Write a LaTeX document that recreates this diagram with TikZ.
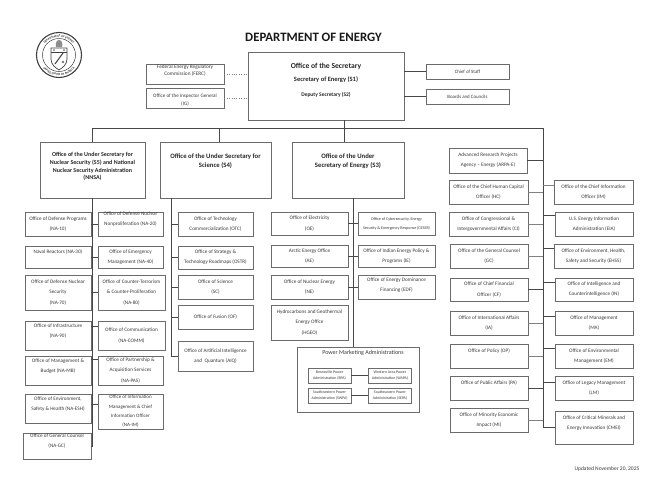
\documentclass[tikz,border=0pt]{standalone}
\usepackage{fontspec}
\setmainfont{Carlito}
\usetikzlibrary{decorations.text}
\definecolor{boxgrey}{gray}{0.42}
\definecolor{inkgrey}{gray}{0.22}
\tikzset{
  office/.style 2 args={draw=boxgrey, line width=0.7pt, text=inkgrey, align=center, inner sep=0pt,
    minimum width=#1, minimum height=#2, font=\fontsize{5.2}{10.2}\selectfont},
  headbox/.style 2 args={office={#1}{#2}, font=\fontsize{6.7}{9}\bfseries\selectfont, text=black!85},
  topbox/.style 2 args={office={#1}{#2}, font=\fontsize{5.3}{7.5}\selectfont},
  pmabox/.style={office={43}{15}, line width=0.5pt, font=\fontsize{3.9}{6.4}\selectfont},
  spine/.style={draw=black!72, line width=0.75pt},
  tick/.style={draw=black!72, line width=0.6pt},
  greytick/.style={draw=black!50, line width=1pt},
  dotlink/.style={draw=black!50, line width=0.4pt, dotted},
  seal/.style={draw=black!75, line width=0.5pt}
}
\begin{document}
\begin{tikzpicture}[x=1pt,y=-1pt]
\useasboundingbox (0,0) rectangle (661,490);

\node[font=\fontsize{12.8}{15}\bfseries\selectfont, text=black!90, inner sep=0pt] (title) at (313.5,37) {DEPARTMENT OF ENERGY};

\draw[seal, line width=1.1pt] (59,55) circle (22.5pt);
\draw[seal] (59,55) circle (16.5pt);
\path[decorate, decoration={text along path, text align=center, text={|\fontsize{3}{3}\bfseries\selectfont\color{black!80}|DEPARTMENT OF ENERGY}}]
  (59,55) ++(165:18pt) arc[start angle=165, end angle=15, radius=18pt];
\path[decorate, decoration={text along path, text align=center, text={|\fontsize{3}{3}\bfseries\selectfont\color{black!80}|UNITED STATES OF AMERICA}}]
  (59,55) ++(200:20.5pt) arc[start angle=200, end angle=340, radius=20.5pt];
\draw[seal, fill=white, line width=0.7pt] (51,48) -- (67,48) -- (67,59) .. controls (67,65) and (62,68) .. (59,70) .. controls (56,68) and (51,65) .. (51,59) -- cycle;
\draw[seal] (51,52) -- (67,52);
\draw[seal, line width=1pt] (55,64) -- (63,53);
\fill[black!55] (54,50) circle (1pt) (64,50) circle (1pt) (63,62) circle (1.3pt);
\fill[black!45] (56,47) .. controls (55,43) and (57,40) .. (59,40) .. controls (62,40) and (63,44) .. (62,47) -- cycle;

\node[office={156}{68}, text=black!85, font=\fontsize{5.5}{7}\selectfont] (S1) at (326,86) {%
  {\fontsize{7.6}{9}\bfseries\selectfont Office of the Secretary}\\[6pt]
  {\fontsize{6.5}{8}\bfseries\selectfont Secretary of Energy (S1)}\\[8pt]
  {\bfseries Deputy Secretary (S2)}\\[6pt]~};
\node[topbox={78}{20}] (FERC) at (185,74) {Federal Energy Regulatory\\Commission (FERC)\\~};
\node[topbox={78}{20}, font=\fontsize{5.1}{7.5}\selectfont] (IG) at (185,98) {~\\Office of the Inspector General\\(IG)};
\node[office={83}{15}, font=\fontsize{4.9}{6}\selectfont] (CoS) at (467.5,71.5) {Chief of Staff};
\node[office={83}{15}, font=\fontsize{4.9}{6}\selectfont] (BC) at (467.5,96.5) {Boards and Councils};

\node[headbox={105}{56}, font=\fontsize{6}{7.7}\bfseries\selectfont] (NNSA) at (92.5,170) {Office of the Under Secretary for\\Nuclear Security (S5) and National\\Nuclear Security Administration\\(NNSA)\\~};
\node[headbox={111}{56}] (S4) at (215.5,170) {Office of the Under Secretary for\\Science (S4)\\~\\~};
\node[headbox={112}{56}] (S3) at (348,170) {Office of the Under\\Secretary of Energy (S3)\\~\\~};

\node[office={66}{24}] (NA10) at (58,224) {Office of Defense Programs\\(NA-10)};
\node[office={65}{24}] (NA20) at (130.5,224) {Office of Defense Nuclear\\Nonproliferation (NA-20)\\~};
\node[office={66}{22}] (NA30) at (58,257) {Naval Reactors (NA-30)\\~};
\node[office={65}{22}] (NA40) at (130.5,257) {Office of Emergency\\Management (NA-40)};
\node[office={66}{35}] (NA70) at (58,292.5) {Office of Defense Nuclear\\Security\\(NA-70)};
\node[office={67}{35}] (NA80) at (131.5,292.5) {Office of Counter-Terrorism\\\& Counter-Proliferation\\(NA-80)};
\node[office={66}{29}] (NA90) at (58,335.5) {Office of Infrastructure\\(NA-90)\\~};
\node[office={67}{29}] (NACOMM) at (131.5,335.5) {Office of Communication\\(NA-COMM)};
\node[office={66}{29}] (NAMB) at (58,370.5) {Office of Management \&\\Budget (NA-MB)\\~};
\node[office={65}{29}] (NAPAS) at (130.5,370.5) {Office of Partnership \&\\Acquisition Services\\(NA-PAS)};
\node[office={66}{29}] (NAESH) at (58,408.5) {Office of Environment,\\Safety \& Health (NA-ESH)\\~};
\node[office={65}{35}, font=\fontsize{5}{9.3}\selectfont] (NAIM) at (130.5,411.5) {Office of Information\\Management \& Chief\\Information Officer\\(NA-IM)};
\node[office={68}{26}] (NAGC) at (57,446) {Office of General Counsel\\(NA-GC)\\~};

\node[office={75}{24}] (OTC) at (215.5,224) {Office of Technology\\Commercialization (OTC)};
\node[office={75}{23}] (OSTR) at (215.5,257.5) {Office of Strategy \&\\Technology Roadmaps (OSTR)};
\node[office={75}{24}] (SC) at (215.5,287) {Office of Science\\(SC)};
\node[office={75}{24}] (OF) at (215.5,317) {Office of Fusion (OF)};
\node[office={75}{30}] (AIQ) at (215.5,356) {Office of Artificial Intelligence\\and~ Quantum (AIQ)};

\node[office={77}{23}] (OE) at (309.5,223.5) {Office of Electricity\\(OE)};
\node[office={77}{22}] (AE) at (309.5,256) {Arctic Energy Office\\(AE)};
\node[office={77}{24}] (NE) at (309.5,287) {Office of Nuclear Energy\\(NE)};
\node[office={77}{35}] (HGEO) at (309.5,322.5) {Hydrocarbons and Geothermal\\Energy Office\\(HGEO)};
\node[office={77}{23}, font=\fontsize{4.1}{9}\selectfont] (CESER) at (396.5,223.5) {Office of Cybersecurity, Energy\\Security \& Emergency Response (CESER)};
\node[office={77}{22}] (IE) at (396.5,256) {Office of Indian Energy Policy \&\\Programs (IE)};
\node[office={77}{24}] (EDF) at (396.5,287) {Office of Energy Dominance\\Financing (EDF)\\[-6pt]~};

\node[office={122}{65}] (PMA) at (358,379.5) {};
\node[inner sep=0pt, text=inkgrey, font=\fontsize{6}{7}\selectfont] (PMAname) at (363,353) {Power Marketing Administrations};
\node[pmabox] (BPA) at (329.5,375.5) {Bonneville Power\\Administration (BPA)};
\node[pmabox] (WAPA) at (390,375.5) {Western Area Power\\Administration (WAPA)};
\node[pmabox] (SWPA) at (329.5,395.5) {Southwestern Power\\Administration (SWPA)};
\node[pmabox] (SEPA) at (390,395.5) {Southeastern Power\\Administration (SEPA)};

\node[office={78}{25}] (ARPA) at (488,160.5) {Advanced Research Projects\\Agency -- Energy (ARPA-E)};
\node[office={79}{24}] (HC) at (488.5,192) {Office of the Chief Human Capital\\Officer (HC)};
\node[office={79}{24}] (CI) at (488.5,224) {Office of Congressional \&\\Intergovernmental Affairs (CI)};
\node[office={78}{24}] (GC) at (489,256) {Office of the General Counsel\\(GC)};
\node[office={78}{23}] (CF) at (489,289.5) {Office of Chief Financial\\Officer (CF)};
\node[office={78}{24}] (IA) at (489,323) {Office of International Affairs\\(IA)};
\node[office={78}{24}] (OP) at (489,356) {Office of Policy (OP)\\~};
\node[office={78}{24}] (PA) at (489,388) {Office of Public Affairs (PA)\\~};
\node[office={78}{24}] (MI) at (489,420) {Office of Minority Economic\\Impact (MI)};

\node[office={79}{24}] (IM) at (593.5,192) {Office of the Chief Information\\Officer (IM)};
\node[office={78}{24}] (EIA) at (594,224) {U.S. Energy Information\\Administration (EIA)};
\node[office={79}{24}] (EHSS) at (593.5,256) {Office of Environment, Health,\\Safety and Security (EHSS)};
\node[office={78}{23}] (IN) at (594,289.5) {Office of Intelligence and\\Counterintelligence (IN)};
\node[office={78}{24}] (MA) at (594,323) {Office of Management\\(MA)};
\node[office={78}{24}] (EM) at (594,356) {Office of Environmental\\Management (EM)};
\node[office={78}{24}] (LM) at (594,388) {Office of Legacy Management\\(LM)};
\node[office={78}{33}] (CMEI) at (594,427.5) {Office of Critical Minerals and\\Energy Innovation (CMEI)\\~};

\node[inner sep=0pt, text=inkgrey, font=\fontsize{5.5}{6}\selectfont] (updated) at (607,469) {Updated November 20, 2025};

\coordinate (busEnd) at (543,128);
\coordinate (dropS1) at (344,120);
\coordinate (dropS4) at (219,128);
\coordinate (spineS4) at (171,198);
\coordinate (spineS3) at (353,198);

\draw[dotlink] (FERC.east) -- (FERC.east -| S1.west);
\draw[dotlink] (IG.east) -- (IG.east -| S1.west);
\draw[tick] (CoS.west) -- (CoS.west -| S1.east);
\draw[tick] (BC.west) -- (BC.west -| S1.east);

\draw[spine] (NNSA.north) |- (busEnd) |- (CMEI.west);
\draw[spine] (dropS1) -- (dropS1 |- S3.north);
\draw[spine] (dropS4) -- (dropS4 |- S4.north);
\draw[spine] (NNSA.south) |- (NAGC.east);
\draw[spine] (spineS4) |- (AIQ.west);
\draw[spine] (spineS3) -- (spineS3 |- PMA.north);

\draw[tick] (NA10.east |- NA20.west) -- (NA20.west);
\draw[tick] (NA30.east) -- (NA40.west);
\draw[tick] (NA70.east) -- (NA80.west);
\draw[tick] ([yshift=9.5pt]NA90.east) -- ([yshift=9.5pt]NACOMM.west);
\draw[tick] ([yshift=11.5pt]NAMB.east) -- ([yshift=11.5pt]NAPAS.west);
\draw[tick] ([yshift=4.5pt]NAESH.east) -- ([yshift=4.5pt]NAESH.east -| NAIM.west);

\draw[tick] (OTC.west) -- (OTC.west -| spineS4);
\draw[tick] (OSTR.west) -- (OSTR.west -| spineS4);
\draw[tick] (SC.west) -- (SC.west -| spineS4);
\draw[tick] (OF.west) -- (OF.west -| spineS4);

\draw[tick] (OE.east) -- (CESER.west);
\draw[tick] (AE.east) -- (IE.west);
\draw[tick] (NE.east) -- (EDF.west);

\draw[tick] (BPA.east) -- (WAPA.west);
\draw[tick] (SWPA.east) -- (SEPA.west);

\draw[tick] (ARPA.east) -- (ARPA.east -| busEnd);
\draw[greytick] (HC.east) -- (HC.east -| busEnd);
\draw[greytick] (CI.east) -- (CI.east -| busEnd);
\draw[greytick] (GC.east) -- (GC.east -| busEnd);
\draw[tick] (CF.east) -- (CF.east -| busEnd);
\draw[greytick] (IA.east) -- (IA.east -| busEnd);
\draw[greytick] (OP.east) -- (OP.east -| busEnd);
\draw[tick] (PA.east) -- (PA.east -| busEnd);
\draw[greytick] (MI.east) -- (MI.east -| busEnd);

\draw[greytick] ([yshift=7pt]IM.west) -- ([yshift=7pt]IM.west -| busEnd);
\draw[tick] ([yshift=9pt]EIA.west) -- ([yshift=9pt]EIA.west -| busEnd);
\draw[tick] ([yshift=8pt]EHSS.west) -- ([yshift=8pt]EHSS.west -| busEnd);
\draw[tick] ([yshift=7.5pt]IN.west) -- ([yshift=7.5pt]IN.west -| busEnd);
\draw[tick] ([yshift=7pt]MA.west) -- ([yshift=7pt]MA.west -| busEnd);
\draw[tick] ([yshift=8pt]EM.west) -- ([yshift=8pt]EM.west -| busEnd);
\draw[tick] ([yshift=6pt]LM.west) -- ([yshift=6pt]LM.west -| busEnd);
\end{tikzpicture}
\end{document}
